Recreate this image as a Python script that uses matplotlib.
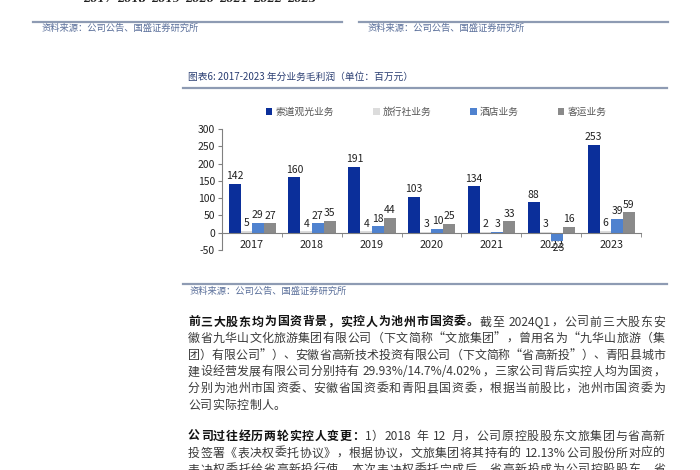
import re
import numpy as np
import matplotlib.pyplot as plt
from matplotlib.lines import Line2D

plt.rcParams['font.family'] = ['Noto Sans CJK SC', 'DejaVu Sans']
plt.rcParams['axes.unicode_minus'] = False

# данные
years = ['2017', '2018', '2019', '2020', '2021', '2022', '2023']
series_names = ['索道观光业务', '旅行社业务', '酒店业务', '客运业务']
suodao = [142, 160, 191, 103, 134, 88, 253]
lvxingshe = [5, 4, 4, 3, 2, 3, 6]
jiudian = [29, 27, 18, 10, 3, -23, 39]
keyun = [27, 35, 44, 25, 33, 16, 59]
colors = ['#0b2f9a', '#dcdcdc', '#4f82cf', '#8a8a8a']

yticks = [-50, 0, 50, 100, 150, 200, 250, 300]

title = '图表6: 2017-2023 年分业务毛利润（单位：百万元）'
source = '资料来源：公司公告、国盛证券研究所'

# (жирная часть, обычная часть, выравнивать по ширине)
para_lines = [
    ('前三大股东均为国资背景，实控人为池州市国资委。', '截至 2024Q1，公司前三大股东安', True),
    ('', '徽省九华山文化旅游集团有限公司（下文简称“文旅集团”，曾用名为“九华山旅游（集', True),
    ('', '团）有限公司”）、安徽省高新技术投资有限公司（下文简称“省高新投”）、青阳县城市', True),
    ('', '建设经营发展有限公司分别持有 29.93%/14.7%/4.02%，三家公司背后实控人均为国资，', True),
    ('', '分别为池州市国资委、安徽省国资委和青阳县国资委，根据当前股比，池州市国资委为', True),
    ('', '公司实际控制人。', False),
    None,
    ('公司过往经历两轮实控人变更：', '1）2018 年 12 月，公司原控股股东文旅集团与省高新', True),
    ('', '投签署《表决权委托协议》，根据协议，文旅集团将其持有的 12.13%公司股份所对应的', True),
    ('', '表决权委托给省高新投行使，本次表决权委托完成后，省高新投成为公司控股股东，省', True),
]

W, H = 700, 470
fig = plt.figure(figsize=(7, 4.7), dpi=100)


def fx(x):
    return x / W


def fy(y):
    return 1 - y / H


# обрезанный кусок предыдущего графика сверху
for i, yr in enumerate(years):
    fig.text(fx(98 + i * 34), fy(-1), yr, fontsize=7.5, ha='center', va='center',
             style='italic', fontweight='bold', color='#222222', family='DejaVu Serif')
line_color = '#8e9bb3'
for x0, x1, tx in [(33, 342, 42), (359, 668, 368)]:
    fig.add_artist(Line2D([fx(x0), fx(x1)], [fy(22), fy(22)], color=line_color, lw=1.6))
    fig.text(fx(tx), fy(28), source, fontsize=6.7, ha='left', va='center',
             style='italic', color='#5a6f9a')

# заголовок графика
fig.text(fx(188), fy(77), title, fontsize=7, ha='left', va='center',
         style='italic', color='#2b3f73')
fig.add_artist(Line2D([fx(183), fx(667)], [fy(88), fy(88)], color=line_color, lw=1.6))

# основной график
ax = fig.add_axes([fx(222), fy(250), (641 - 222) / W, (250 - 129) / H])
x = np.arange(len(years))
w = 0.2
offsets = [-0.29, -0.09, 0.1, 0.3]
data = [suodao, lvxingshe, jiudian, keyun]
handles = []
for vals, off, c, name in zip(data, offsets, colors, series_names):
    b = ax.bar(x + off, vals, width=w, color=c, label=name, zorder=2)
    handles.append(b)
    for xi, v in zip(x + off, vals):
        ax.annotate(str(v), (xi, v), xytext=(0, 2 if v >= 0 else -2),
                    textcoords='offset points', ha='center',
                    va='bottom' if v >= 0 else 'top', fontsize=7.5, color='#222222')

ax.set_xlim(-0.5, 6.5)
ax.set_ylim(-50, 300)
ax.set_yticks(yticks)
ax.set_xticks(x)
ax.set_xticklabels(years)
ax.set_xticks(np.arange(-0.5, 7, 1), minor=True)
ax.tick_params(axis='x', which='major', length=0, pad=5, labelsize=7.8, colors='#222222')
ax.tick_params(axis='x', which='minor', length=3, color='#808080', direction='out')
ax.tick_params(axis='y', length=3, color='#808080', labelsize=7.5, labelcolor='#222222', pad=2)
ax.spines['top'].set_visible(False)
ax.spines['right'].set_visible(False)
ax.spines['bottom'].set_position(('data', 0))
ax.spines['bottom'].set_color('#808080')
ax.spines['left'].set_color('#808080')
ax.patch.set_alpha(0)

fig.legend(handles=handles, loc='center', bbox_to_anchor=(fx(436), fy(112)), ncol=4,
           frameon=False, fontsize=7, handlelength=0.7, handleheight=0.7,
           handletextpad=0.3, columnspacing=4.0, labelcolor='#555555')

# низ: источник и текст
fig.add_artist(Line2D([fx(183), fx(667)], [fy(284), fy(284)], color=line_color, lw=1.6))
fig.text(fx(190), fy(291), source, fontsize=6.7, ha='left', va='center',
         style='italic', color='#5a6f9a')

renderer = fig.canvas.get_renderer()
left, right = 188, 665
fs = 8.6
em = fs * 100 / 72  # ширина иероглифа в пикселях


def tokens(s, bold):
    return [(m.group(0), bold) for m in re.finditer(r'[A-Za-z0-9.%/]+| |.', s)]


y = 322
for item in para_lines:
    if item is None:
        y += 15
        continue
    bold, normal, justify = item
    toks = tokens(bold, True) + tokens(normal, False)
    arts = []
    widths = []
    for tok, b in toks:
        t = fig.text(0, fy(y), tok, fontsize=fs, fontweight='bold' if b else 'normal',
                     ha='left', va='center', color='#111111' if b else '#3a3a3a')
        if tok == ' ':
            wd = em * 0.3
        elif ord(tok[0]) > 127:
            wd = em
        else:
            wd = t.get_window_extent(renderer).width
        widths.append(wd)
        arts.append(t)
    total = sum(widths)
    gap = (right - left - total) / (len(arts) - 1) if justify else 0.3
    xs = left
    for t, wd in zip(arts, widths):
        t.set_x(fx(xs))
        xs += wd + gap
    y += 16.6

fig.savefig('out.png', dpi=100)
